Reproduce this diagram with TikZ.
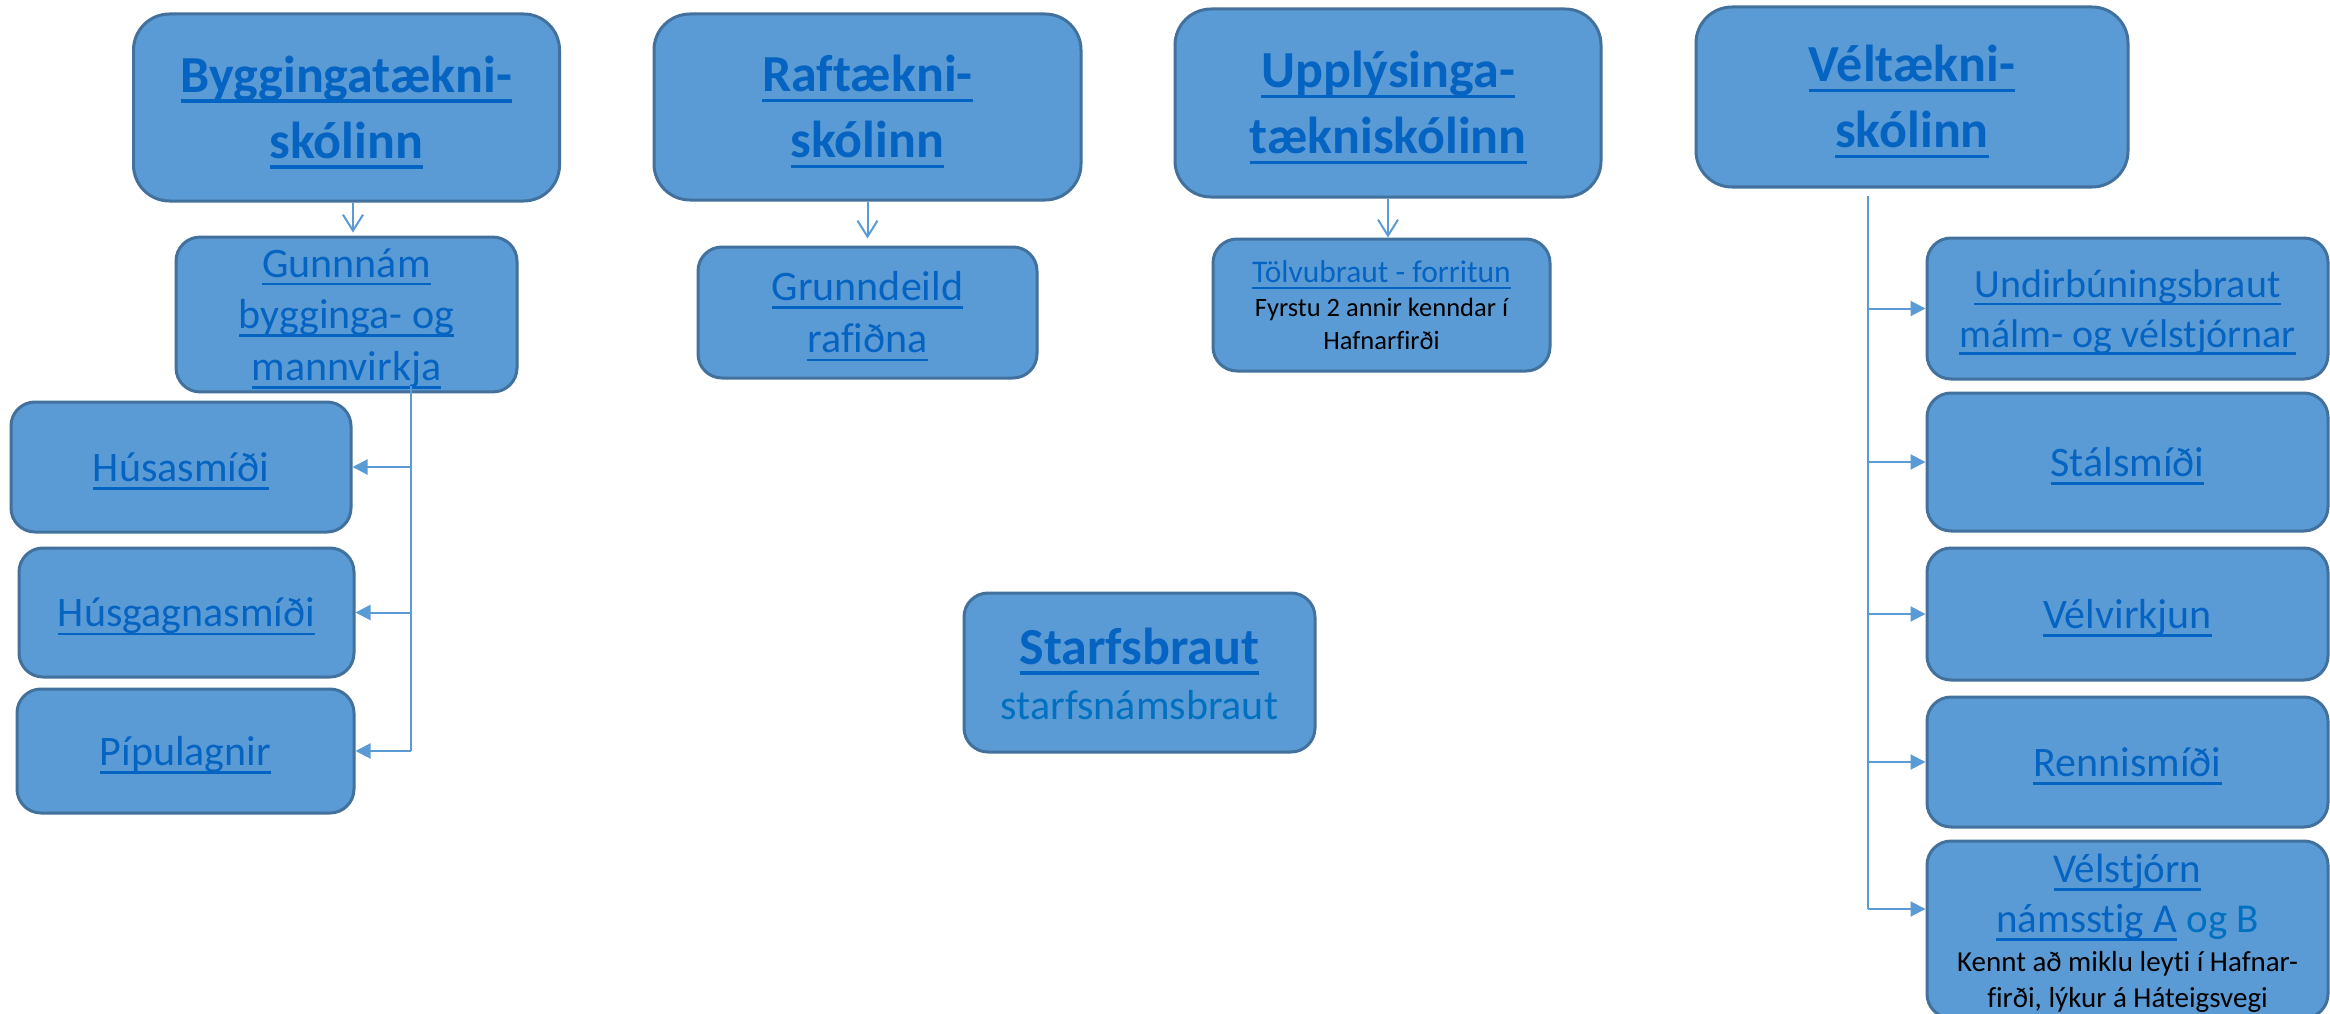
\documentclass[tikz,border=0pt]{standalone}
\usepackage{fontspec}
\setmainfont{Carlito}[Ligatures=NoCommon]
\usetikzlibrary{arrows.meta}
\definecolor{boxfill}{HTML}{5B9BD5}
\definecolor{bord}{HTML}{41719C}
\definecolor{lnk}{HTML}{0563C1}
\definecolor{lnktwo}{HTML}{0070C0}
\definecolor{conncol}{HTML}{5B9BD5}
\newcommand\setupk{\baselineskip=0pt\lineskip=0pt\lineskiplimit=0pt\relax}
\newcommand\strutk{\rule[-0.269em]{0pt}{1.221em}}
\newcommand\strutt{\rule[-0.28em]{0pt}{1.25em}}
\newsavebox\ulboxk
\newcommand\ulk[1]{\sbox\ulboxk{#1}\rlap{\rule[-0.2em]{\wd\ulboxk}{0.065em}}\usebox\ulboxk}
\newcommand\fT{\fontsize{52pt}{0pt}\selectfont\bfseries}
\newcommand\fR[1]{\fontsize{#1pt}{0pt}\selectfont}
\tikzset{
  box/.style={draw=bord, fill=boxfill, line width=3pt, rounded corners=24pt,
    inner sep=0pt, align=flush center, text=lnk},
  titlebox/.style={box, rounded corners=36pt, font=\fT, text width=410pt},
  subbox/.style={box, font=\fR{42}, text width=325pt},
  rbox/.style={box, font=\fR{41}, text width=390pt, minimum width=401pt},
  conn/.style={draw=conncol, line width=2pt},
  barb/.style={conn, -{Straight Barb[length=16pt,width=20pt]}},
  tri/.style={conn, -{Triangle[length=15pt,width=15pt]}}
}
\begin{document}
\begin{tikzpicture}[x=1pt,y=-1pt]
\clip (0,0) rectangle (2330,1014);
\fill[white] (0,0) rectangle (2330,1014);
% top schools
\node[titlebox, minimum width=426pt, minimum height=187pt] (T1) at (346.5,107.5)
  {\setupk\strutt\ulk{Byggingatækni-}\\\strutt\ulk{skólinn}};
\node[titlebox, minimum width=427pt, minimum height=186pt] (T2) at (867.5,107)
  {\setupk\strutt\ulk{Raftækni-}\\\strutt\ulk{skólinn}};
\node[titlebox, minimum width=426pt, minimum height=188pt] (T3) at (1388,103)
  {\setupk\strutt\ulk{Upplýsinga-}\\\strutt\ulk{tækniskólinn}};
\node[titlebox, minimum width=432pt, minimum height=180pt] (T4) at (1912,97)
  {\setupk\strutt\ulk{Véltækni-}\\\strutt\ulk{skólinn}};
% second row
\node[subbox, minimum width=341pt, minimum height=143pt] (G1) at (346.5,314.5)
  {\setupk\strutk\ulk{Gunnnám}\\\strutk\ulk{bygginga- og}\\\strutk\ulk{mannvirkja}};
\node[subbox, minimum width=339pt, minimum height=131pt] (G2) at (867.5,312.5)
  {\setupk\strutk\ulk{Grunndeild}\\\strutk\ulk{rafiðna}};
\node[subbox, minimum width=337pt, minimum height=132pt] (G3) at (1381.5,305)
  {\setupk\fR{31.5}\strutk\ulk{Tölvubraut - forritun}\\
   {\fR{26.5}\color{black}\strutk Fyrstu 2 annir kenndar í}\\
   {\fR{26.5}\color{black}\strutk Hafnarfirði}};
% left column
\node[subbox, minimum width=340pt, minimum height=130pt] (H1) at (181,467)
  {\setupk\strutk\ulk{Húsasmíði}};
\node[subbox, minimum width=335pt, minimum height=129pt] (H2) at (186.5,612.5)
  {\setupk\strutk\ulk{Húsgagnasmíði}};
\node[subbox, minimum width=337pt, minimum height=124pt] (H3) at (185.5,751)
  {\setupk\strutk\ulk{Pípulagnir}};
% centre
\node[subbox, minimum width=351pt, minimum height=159pt] (S) at (1139.5,672.5)
  {\setupk{\fT\strutk\ulk{Starfsbraut}}\\{\color{lnktwo}\strutk starfsnámsbraut}};
% right column
\node[rbox, minimum height=141pt, font=\fR{40}] (V1) at (2127.5,308.5)
  {\setupk\strutk\ulk{Undirbúningsbraut}\\\strutk\ulk{málm- og vélstjórnar}};
\node[rbox, minimum height=138pt, font=\fR{42}] (V2) at (2127.5,462)
  {\setupk\strutk\ulk{Stálsmíði}};
\node[rbox, minimum height=132pt, font=\fR{42}] (V3) at (2127.5,614)
  {\setupk\strutk\ulk{Vélvirkjun}};
\node[rbox, minimum height=130pt, font=\fR{42}] (V4) at (2127.5,762)
  {\setupk\strutk\ulk{Rennismíði}};
\node[rbox, minimum height=177pt] (V5) at (2127.5,929.5)
  {\setupk\strutk\ulk{Vélstjórn}\\\strutk\ulk{námsstig A} {\color{lnktwo}og B}\\
   {\fR{29}\color{black}\strutk Kennt að miklu leyti í Hafnar-}\\
   {\fR{29}\color{black}\strutk firði, lýkur á Háteigsvegi}};
% top arrows
\draw[barb, shorten >=3pt] ([xshift=6.5pt]T1.south) -- ([xshift=6.5pt]T1.south |- G1.north);
\draw[barb, shorten >=7pt] (T2.south) -- (T2.south |- G2.north);
\draw[barb] (T3.south) -- (T3.south |- G3.north);
% left branch
\coordinate (lv) at (411,386);
\draw[conn] (lv) -- (lv |- H3.east);
\draw[tri] (lv |- H1.east) -- (H1.east);
\draw[tri] (lv |- H2.east) -- (H2.east);
\draw[tri] (lv |- H3.east) -- (H3.east);
% right branch
\coordinate (rv) at (1868,196);
\coordinate (v5in) at ([yshift=20.5pt]V5.west);
\draw[conn] (rv) -- (rv |- v5in);
\draw[tri] (rv |- V1.west) -- (V1.west);
\draw[tri] (rv |- V2.west) -- (V2.west);
\draw[tri] (rv |- V3.west) -- (V3.west);
\draw[tri] (rv |- V4.west) -- (V4.west);
\draw[tri] (rv |- v5in) -- (v5in);
\end{tikzpicture}
\end{document}
